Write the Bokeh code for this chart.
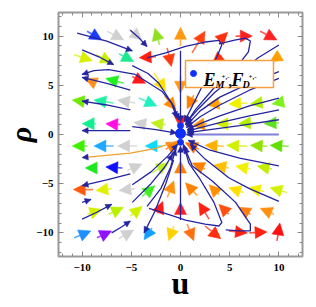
from bokeh.plotting import figure
from bokeh.models import Arrow, NormalHead, ColumnDataSource, LinearAxis, FixedTicker, Range1d
from bokeh.core.properties import value
from bokeh.embed import file_html
from bokeh.resources import INLINE

# ---------------- data ----------------
# direction-field arrows: tail (u0, rho0) -> head (u1, rho1)
arrow_u0 = [-9.5, -7.45, -5.24, -2.13, 0.0, -10.8, -8.6, -6.25, -2.5, -1.36,
            -8.6, -5.76, -4.9, -2.7, 0.0, -9.45, -6.8, -4.6, -4.24, -1.6,
            0.0, -8.6, -6.1, -3.4, -1.5,
            1.18, 3.9, 5.6, 8.1, 4.2, 10.1, 1.35, 4.2, 6.8, 8.6, 10.3,
            2.7, 5.2, 7.6, 10.0,
            -9.45, -6.8, -4.4, -1.9, -1.5, -8.6, -5.9, -5.4, -2.9, 0.0,
            -8.9, -7.0, -4.6, -3.9, -1.35, -9.45, -7.3, -5.1, -2.3, 0.0,
            -10.8, -8.5, -6.3, -2.9, -0.67,
            1.86, 4.4, 6.8, 8.8, 11.0, 2.5, 4.9, 7.1, 9.3,
            1.7, 3.9, 6.4, 8.5, 10.8, 2.9, 4.9, 7.1, 9.5,
            0.67, 2.5, 4.9, 7.0, 9.8]
arrow_rho0 = [10.5, 10.5, 10.7, 9.1, 9.0, 8.1, 8.1, 8.2, 7.9, 8.8,
              5.2, 5.2, 5.9, 6.25, 5.9, 3.3, 3.2, 3.2, 3.7, 3.9,
              1.6, 1.1, 1.0, 1.0, 1.0,
              8.3, 9.5, 10.0, 10.5, 8.0, 8.0, 4.0, 3.2, 3.2, 3.3, 3.3,
              1.1, 1.1, 1.2, 1.2,
              -1.17, -1.17, -1.17, -1.17, -1.5, -3.4, -3.4, -3.65, -3.9, -3.7,
              -5.6, -5.5, -5.5, -6.3, -6.4, -8.1, -8.1, -8.3, -8.0, -8.1,
              -10.5, -10.5, -10.6, -9.5, -9.3,
              -1.5, -1.2, -1.2, -1.2, -1.2, -3.5, -3.4, -3.5, -3.5,
              -6.2, -6.1, -5.9, -5.8, -5.9, -8.6, -8.1, -8.1, -8.1,
              -9.1, -9.3, -9.8, -10.0, -10.8]
arrow_u1 = [-8.0, -5.76, -3.9, -2.6, 0.0, -8.95, -6.9, -4.75, -4.2, -0.92,
            -9.7, -7.6, -3.55, -1.5, 0.0, -11.0, -8.8, -6.4, -2.4, -0.45,
            0.0, -10.0, -7.6, -4.75, -3.0,
            2.5, 4.8, 7.3, 9.8, 3.2, 9.1, 0.67, 2.7, 4.9, 7.1, 9.3,
            1.2, 3.6, 5.9, 8.5,
            -11.0, -8.8, -6.4, -3.6, -0.17, -9.7, -7.6, -3.9, -1.2, 0.0,
            -10.9, -8.6, -6.25, -2.6, -0.67, -8.0, -5.8, -3.9, -1.8, 0.0,
            -9.1, -7.0, -4.75, -3.7, -1.2,
            0.5, 2.5, 4.7, 7.1, 9.1, 1.2, 3.4, 5.6, 7.8,
            0.5, 2.9, 4.9, 6.9, 9.1, 1.86, 3.9, 5.9, 8.1,
            1.35, 4.1, 6.8, 8.8, 10.1]
arrow_rho1 = [9.6, 9.6, 9.6, 10.8, 10.9, 7.5, 7.3, 7.4, 7.8, 6.9,
              5.7, 5.7, 5.2, 4.4, 4.2, 3.5, 3.5, 3.5, 2.9, 2.5,
              0.6, 1.1, 1.1, 1.25, 1.2,
              10.5, 10.4, 10.0, 9.6, 7.2, 7.4, 2.6, 3.0, 3.1, 3.1, 3.1,
              0.9, 1.1, 1.1, 1.1,
              -1.17, -1.17, -1.17, -1.17, -0.73, -3.4, -3.3, -3.0, -2.9, -2.7,
              -5.6, -5.7, -5.7, -5.2, -4.7, -7.6, -7.4, -7.3, -6.8, -6.9,
              -9.8, -9.8, -9.7, -10.7, -10.8,
              -0.83, -1.1, -1.1, -1.1, -1.1, -2.9, -3.1, -3.2, -3.2,
              -4.9, -5.1, -5.4, -5.4, -5.4, -6.9, -7.1, -7.4, -7.5,
              -10.8, -10.6, -10.0, -9.9, -9.0]
arrow_color = ["#1a3cff", "#d0d0d0", "#d0d0d0", "#90e020", "#ff9a10", "#d8f000", "#c8f000", "#20e890", "#ff2010", "#ff3a10",
               "#ff9020", "#20f020", "#ff1a1a", "#ffe000", "#ff9a10", "#70e800", "#20f0a0", "#d0d0d0", "#20f0c0", "#ff8c00",
               "#ff2020", "#10f090", "#ff10e0", "#d0d0d0", "#c0f020",
               "#ff4010", "#ff3010", "#ff2020", "#ff2020", "#ff3010", "#ffa000", "#ff8000", "#ffa000", "#f0f000", "#b0f000", "#80f020",
               "#ff9000", "#d0f000", "#b0f000", "#60e020",
               "#40f000", "#20a8ff", "#d0d0d0", "#10d8ff", "#ff8000", "#20e820", "#1010ff", "#d0d0d0", "#c0f020", "#ff8000",
               "#ff5a10", "#e0f000", "#d0d0d0", "#40f020", "#ff9010", "#d0f000", "#b8f000", "#d0f000", "#ff1a1a", "#ff2020",
               "#2090ff", "#9010ff", "#d0d0d0", "#10a0ff", "#ffd000",
               "#ff7000", "#ffb000", "#d0f000", "#90e000", "#60e000", "#ff8000", "#ffc000", "#f0f000", "#c0f000",
               "#ff8000", "#ff9000", "#ffe000", "#f0f000", "#d0f000", "#ff2010", "#ff5010", "#ff8010", "#ff9010",
               "#ff7010", "#ff3010", "#ff2010", "#ff2010", "#ff1010"]

# streamlines (each ends where its small arrowhead points)
stream_u = [
    [-10.5, -7.5, -4.9], [-5.1, -4.2, -3.4], [-10.0, -8.3, -6.8],
    [-4.6, -7.3, -8.8, -10.0], [-4.6, -1.9, -0.7, -0.2],
    [-5.1, -7.5, -10.0], [-4.9, -3.3, -2.2, -0.9, -0.4],
    [-5.1, -7.5, -10.0], [-4.9, -2.5, -0.4], [-5.1, -10.0], [0.0, 0.0],
    [-3.4, -1.5, 0.5, 2.5, 3.9, 4.2, 3.7, 3.0, 2.0, 1.0, 0.4],
    [3.9, 5.5, 6.6, 7.1, 6.9, 6.3, 5.0, 3.2, 1.5, 0.5],
    [10.0, 7.9, 6.0, 3.5, 1.8, 0.6], [10.0, 7.0, 4.0, 2.0, 0.6],
    [10.0, 7.0, 4.0, 2.0, 0.6], [10.0, 7.0, 4.0, 2.0, 0.7],
    [10.0, 7.0, 4.0, 2.0, 0.7], [10.0, 6.0, 3.0, 0.7],
    [10.0, 6.0, 3.0, 0.8], [10.0, 7.0, 4.9, 2.5, 1.0],
    [-3.2, -1.0, 0.5, 2.5, 3.9, 4.2, 3.4, 1.9, 0.85, 0.3],
    [4.6, 6.0, 7.1, 7.1, 5.6, 3.2, 1.2, 0.4], [0.0, 0.0],
    [-5.1, -7.5, -10.0], [-4.9, -3.0, -1.3, -0.3], [-10.0, -9.1],
    [-10.0, -8.5, -7.0], [-4.9, -3.0, -1.6, -0.8], [-3.4, -2.0, -1.0, -0.5],
    [-7.0, -6.0, -5.1], [-0.7, -1.5, -2.6, -3.7],
]
stream_rho = [
    [10.3, 9.5, 8.5], [10.6, 9.8, 8.95], [8.6, 7.9, 7.1],
    [6.1, 6.6, 6.5, 6.1], [6.1, 4.4, 2.9, 1.5],
    [4.5, 5.2, 5.8], [7.0, 6.2, 5.2, 3.2, 1.7],
    [2.5, 3.0, 3.4], [0.8, 0.5, 0.15], [0.4, 0.4], [8.5, 1.3],
    [7.8, 8.3, 8.95, 9.4, 9.56, 9.1, 7.9, 6.5, 4.5, 2.5, 1.3],
    [9.2, 9.6, 9.8, 9.5, 8.4, 7.6, 6.5, 4.5, 2.5, 1.0],
    [9.1, 7.8, 6.3, 4.3, 2.6, 1.2], [6.4, 5.2, 3.8, 2.4, 0.9],
    [5.7, 4.5, 3.0, 1.8, 0.7], [3.7, 2.9, 1.9, 1.1, 0.5],
    [2.5, 1.9, 1.2, 0.7, 0.35], [1.5, 0.9, 0.5, 0.2],
    [-3.2, -2.4, -1.6, -0.6], [-6.8, -5.5, -4.4, -2.5, -1.0],
    [-7.5, -8.2, -8.7, -9.1, -9.3, -8.95, -6.9, -4.4, -2.9, -1.0],
    [-9.7, -9.8, -9.8, -9.1, -6.9, -4.7, -3.2, -1.3], [-8.7, -1.2],
    [-4.0, -4.6, -5.2], [-5.1, -3.8, -2.2, -1.0], [-6.9, -6.6],
    [-8.6, -7.9, -7.1], [-6.9, -5.0, -3.3, -2.0], [-7.3, -5.5, -3.3, -1.5],
    [-10.0, -9.4, -8.8], [-2.6, -5.0, -7.8, -10.0],
]
# orange streamline and the light one along rho = 0
orange_u = [-0.3, -2.5, -5.1, -10.0]
orange_rho = [-0.66, -1.4, -1.9, -2.35]
axis_line_u = [10.0, 0.6]
axis_line_rho = [0.0, 0.0]

# fixed points E_{M+,-}, F_{D+,-}
point_u = [0.0, 0.0, 0.0]
point_rho = [0.1, 0.9, -0.8]
point_size = [10, 6, 6]

tick_values = [-10, -5, 0, 5, 10]
tick_labels = ["\u221210", "\u22125", "0", "5", "10"]
minor_values = list(range(-12, 13))

# ---------------- figure ----------------
p = figure(frame_width=244, frame_height=244, x_range=Range1d(-12.4, 12.4), y_range=Range1d(-12.4, 12.4),
           output_backend="svg", toolbar_location=None,
           min_border_left=58, min_border_right=8, min_border_top=12, min_border_bottom=45)
p.grid.visible = False
p.outline_line_color = "#9a9a9a"
p.outline_line_width = 2
p.background_fill_color = "white"

ticker = FixedTicker(ticks=tick_values, minor_ticks=minor_values)
serif = "Liberation Serif"
for ax in (p.xaxis[0], p.yaxis[0]):
    ax.ticker = ticker
    ax.major_label_overrides = dict(zip(tick_values, tick_labels))
    ax.major_label_text_font = serif
    ax.major_label_text_font_style = "bold"
    ax.major_label_text_font_size = "11px"
    ax.major_label_text_color = "black"
    ax.axis_line_color = None
    ax.major_tick_in = 5
    ax.major_tick_out = 0
    ax.minor_tick_in = 3
    ax.minor_tick_out = 0
    ax.major_tick_line_color = "#8a8a8a"
    ax.minor_tick_line_color = "#8a8a8a"
    ax.major_label_standoff = 5
    ax.axis_label_text_font = serif
    ax.axis_label_text_font_style = "bold"
    ax.axis_label_text_color = "black"
p.xaxis[0].major_label_standoff = 7
p.xaxis[0].axis_label = "u"
p.xaxis[0].axis_label_text_font_size = "32px"
p.xaxis[0].axis_label_standoff = -9
p.yaxis[0].axis_label = "\u03c1"
p.yaxis[0].axis_label_text_font_style = "bold italic"
p.yaxis[0].axis_label_text_font_size = "30px"
p.yaxis[0].axis_label_standoff = -4

for side in ("right", "above"):
    ax = LinearAxis(ticker=ticker, major_label_overrides={t: "" for t in tick_values},
                    major_label_text_font_size="1px", major_label_standoff=0,
                    axis_line_color=None, major_tick_in=5, major_tick_out=0,
                    minor_tick_in=3, minor_tick_out=0,
                    major_tick_line_color="#8a8a8a", minor_tick_line_color="#8a8a8a")
    p.add_layout(ax, side)

# direction-field arrows (underneath the streamlines)
for x0, y0, x1, y1, c in zip(arrow_u0, arrow_rho0, arrow_u1, arrow_rho1, arrow_color):
    p.add_layout(Arrow(x_start=x0, y_start=y0, x_end=x1, y_end=y1,
                       line_color=c, line_width=1.6, line_alpha=0.75, level="underlay",
                       end=NormalHead(size=12, fill_color=c, line_color=c, line_width=0.5)))

# streamlines
navy = "#2424a0"
p.multi_line(stream_u, stream_rho, line_color=navy, line_width=1.3)
p.line(orange_u, orange_rho, line_color="#f0a030", line_width=1.3)
p.line(axis_line_u, axis_line_rho, line_color="#8080d8", line_width=2.2)

heads = ColumnDataSource(dict(
    xs=[s[-2] for s in stream_u] + [orange_u[-2], axis_line_u[-2]],
    ys=[s[-2] for s in stream_rho] + [orange_rho[-2], axis_line_rho[-2]],
    xe=[s[-1] for s in stream_u] + [orange_u[-1], axis_line_u[-1]],
    ye=[s[-1] for s in stream_rho] + [orange_rho[-1], axis_line_rho[-1]],
))
p.add_layout(Arrow(source=heads, x_start="xs", y_start="ys", x_end="xe", y_end="ye",
                   line_alpha=0, end=NormalHead(size=6, fill_color=navy, line_color=navy, line_width=0.5)))

# fixed points
p.scatter(point_u, point_rho, size=point_size, color="#1030ff")

# legend box (positions in page pixels of the reference, mapped to data)
def dx(px):
    return -12.4 + (px - 60) / 9.839

def dy(py):
    return 12.4 - (py - 12) / 9.839

p.quad(left=[dx(187)], right=[dx(275)], top=[dy(60)], bottom=[dy(87)],
       fill_color="white", line_color="#f5a040", line_width=1.5, level="overlay")
p.scatter([dx(195)], [dy(73)], size=6, color="#1030ff", level="overlay")
pieces = [("E", 205, 80, "18px", "bold italic"),
          ("M", 217, 84, "10px", "bold italic"),
          ("+,-", 223, 77, "7px", "bold"),
          (",", 230, 81, "14px", "bold"),
          ("F", 233, 80, "18px", "bold italic"),
          ("D", 244, 84, "10px", "bold italic"),
          ("+,-", 250, 77, "7px", "bold")]
for t, px, py, fs, st in pieces:
    p.text([dx(px)], [dy(py)], text=[t], text_font=value(serif), text_font_size=fs,
           text_font_style=st, text_color="black", text_align="left",
           text_baseline="alphabetic", level="overlay")

open("out.html", "w").write(file_html(p, INLINE))
